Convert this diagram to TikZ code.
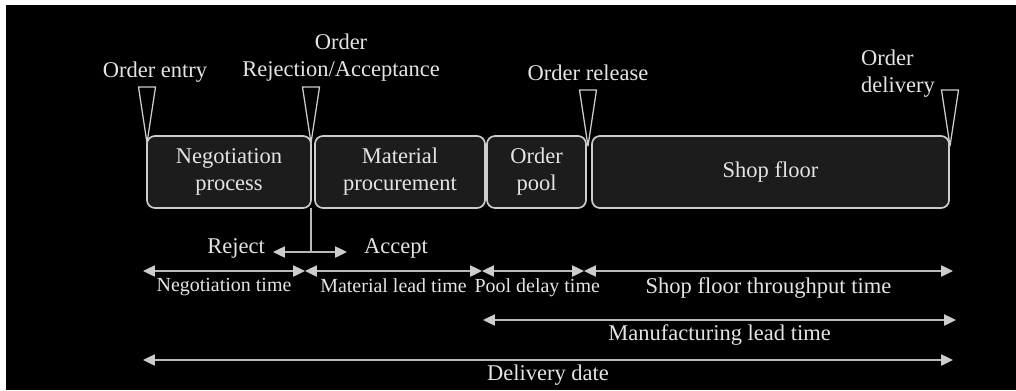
\documentclass[tikz,border=0pt]{standalone}
\usepackage{fontspec}
\setmainfont{Liberation Serif}
\usetikzlibrary{arrows.meta}
\definecolor{ink}{RGB}{228,228,228}
\definecolor{edge}{RGB}{205,205,205}
\definecolor{wire}{RGB}{185,185,185}
\definecolor{boxfill}{RGB}{28,28,28}
\newcommand{\bigtxt}{\fontsize{16}{19.2}\selectfont}
\newcommand{\smalltxt}{\fontsize{14.2}{17}\selectfont}

\begin{document}
\begin{tikzpicture}[x=0.025cm, y=0.025cm,
  stage/.style={draw=edge, fill=boxfill, line width=1.2pt, rounded corners=0.2cm,
    minimum height=1.8cm, inner sep=0pt, text=ink, align=center, font=\bigtxt},
  flag/.style={draw=edge, fill=black, line width=0.9pt, line join=round},
  label/.style={text=ink, font=\bigtxt, inner sep=2pt},
  span/.style={draw=wire, line width=1pt, {Triangle[length=8.5pt,width=8pt,color=edge]}-{Triangle[length=8.5pt,width=8pt,color=edge]}},
  ray/.style={draw=wire, line width=1pt, -{Triangle[length=8.5pt,width=8pt,color=edge]}}]
\useasboundingbox (0,0) rectangle (1016,-390);
\fill[white] (0,0) rectangle (1016,-390);
\fill[black] (6,-5) rectangle (1016,-390);

% stages along the order flow
\node[stage, minimum width=4.1cm] (neg) at (229,-172) {Negotiation\\process};
\node[stage, minimum width=4.25cm] (mat) at (400,-172) {Material\\procurement};
\node[stage, minimum width=2.475cm] (pool) at (536.5,-172) {Order\\pool};
\node[stage, minimum width=8.925cm] (shop) at (770.5,-172) {Shop floor};

% event markers
\coordinate (entry) at (147,-143);
\coordinate (decide) at (311,-143);
\coordinate (release) at (588,-146);
\coordinate (deliver) at (950,-146);
\foreach \p in {entry,decide,release,deliver}
  \draw[flag] (\p) -- ++(-8.5,56) -- ++(17,0) -- cycle;
\node[label] (lentry) at (155,-72) {Order entry};
\node[label, align=center] (ldecide) at (341,-58) {Order\\Rejection/Acceptance};
\node[label] (lrelease) at (588,-73) {Order release};
\node[label, align=left, anchor=west] (ldeliver) at (858,-74) {Order\\delivery};

% reject / accept fork
\coordinate (split) at (311,-208);
\coordinate (fork) at (311,-252);
\coordinate (rej) at (273,-252);
\coordinate (acc) at (347,-252);
\draw[draw=wire, line width=1pt] (split) -- (fork);
\draw[ray] (fork) -- (rej);
\draw[ray] (fork) -- (acc);
\node[label, anchor=east] (lrej) at (268,-248) {Reject};
\node[label, anchor=west] (lacc) at (361,-248) {Accept};

% time spans
\coordinate (t0) at (143,-271);
\coordinate (t1) at (305,-271);
\coordinate (t2) at (482,-271);
\coordinate (t3) at (584,-271);
\coordinate (t4) at (953,-271);
\draw[span] (t0) -- node[label, font=\smalltxt, below=3pt] {Negotiation time} (t1);
\draw[span] (t1) -- node[label, font=\smalltxt, below=3pt] {Material lead time} (t2);
\draw[span] (t2) -- node[label, font=\smalltxt, below=3pt, xshift=3pt] {Pool delay time} (t3);
\draw[span] (t3) -- node[label, below=2pt] {Shop floor throughput time} (t4);

\coordinate (m0) at (483,-320);
\coordinate (m1) at (956,-320);
\draw[span] (m0) -- node[label, below=1pt] {Manufacturing lead time} (m1);

\coordinate (d0) at (143,-360);
\coordinate (d1) at (953,-360);
\draw[span] (d0) -- node[label, below=1pt] {Delivery date} (d1);
\end{tikzpicture}
\end{document}
